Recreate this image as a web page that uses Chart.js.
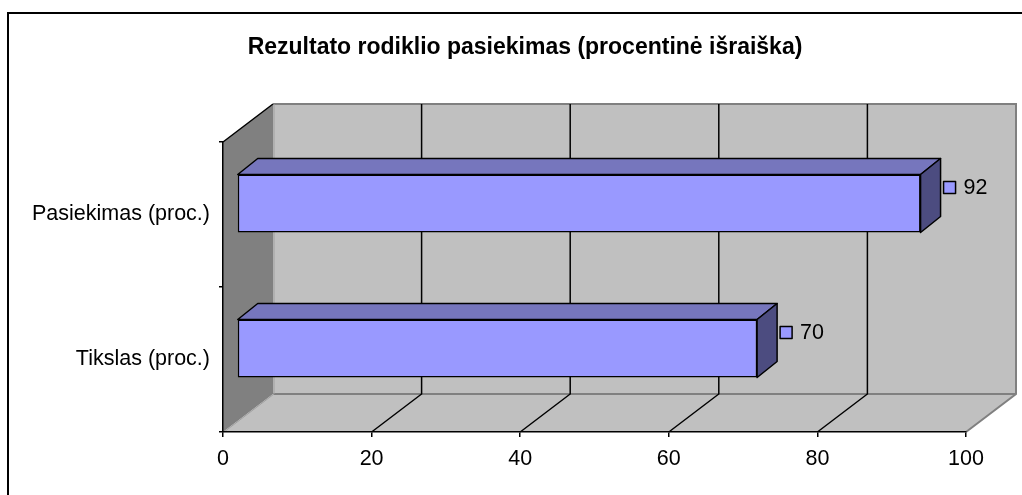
<!DOCTYPE html>
<html>
<head>
<meta charset="utf-8">
<script src="https://cdn.jsdelivr.net/npm/chart.js@4.4.1/dist/chart.umd.min.js"></script>
<style>
  html, body { margin: 0; padding: 0; background: #fff; }
  #wrap { width: 1022px; height: 495px; }
</style>
</head>
<body>
<div id="wrap"><canvas id="c" width="1022" height="495"></canvas></div>
<script>
const titleText = 'Rezultato rodiklio pasiekimas (procentinė išraiška)';
const categories = ['Pasiekimas (proc.)', 'Tikslas (proc.)'];
const values = [92, 70];
const xTickValues = [0, 20, 40, 60, 80, 100];

const FONT = "'Liberation Sans', Arial, sans-serif";
const WALL = { dx: 50, dy: 38 };      // depth of the 3D box
const BAR_SHIFT = { dx: 14, dy: -11 }; // bar front plane offset
const BAR_DEPTH = { dx: 20, dy: -16 }; // bar depth

const wallsPlugin = {
  id: 'walls3d',
  beforeDraw(chart) {
    const ctx = chart.ctx;
    const xs = chart.scales.x, ys = chart.scales.y;
    const x0 = xs.getPixelForValue(xTickValues[0]);
    const x1 = xs.getPixelForValue(xTickValues[xTickValues.length - 1]);
    const top = ys.top, bot = ys.bottom;
    const dx = WALL.dx, dy = WALL.dy;
    ctx.save();
    ctx.fillStyle = '#ffffff';
    ctx.fillRect(0, 0, chart.width, chart.height);
    // outer frame
    ctx.strokeStyle = '#000';
    ctx.lineWidth = 2;
    ctx.beginPath();
    ctx.moveTo(8, 600); ctx.lineTo(8, 13); ctx.lineTo(1200, 13);
    ctx.stroke();
    // back wall
    ctx.fillStyle = '#c0c0c0';
    ctx.fillRect(x0 + dx, top - dy, x1 - x0, bot - top);
    // floor
    ctx.beginPath();
    ctx.moveTo(x0, bot); ctx.lineTo(x1, bot); ctx.lineTo(x1 + dx, bot - dy); ctx.lineTo(x0 + dx, bot - dy); ctx.closePath();
    ctx.fill();
    // left wall
    ctx.fillStyle = '#808080';
    ctx.beginPath();
    ctx.moveTo(x0, top); ctx.lineTo(x0 + dx, top - dy); ctx.lineTo(x0 + dx, bot - dy); ctx.lineTo(x0, bot); ctx.closePath();
    ctx.fill();
    // gray edges
    ctx.strokeStyle = '#808080';
    ctx.lineWidth = 2;
    ctx.beginPath();
    ctx.moveTo(x0 + dx, top - dy); ctx.lineTo(x1 + dx, top - dy); ctx.lineTo(x1 + dx, bot - dy); ctx.lineTo(x1, bot);
    ctx.moveTo(x0 + dx, bot - dy); ctx.lineTo(x1 + dx, bot - dy);
    ctx.stroke();
    ctx.strokeStyle = '#a0a0a0';
    ctx.lineWidth = 1;
    ctx.beginPath();
    ctx.moveTo(x0 + dx + 1, top - dy); ctx.lineTo(x0 + dx + 1, bot - dy);
    ctx.moveTo(x0 + 1, bot); ctx.lineTo(x0 + dx + 1, bot - dy);
    ctx.stroke();
    // gridlines
    ctx.strokeStyle = '#000';
    ctx.lineWidth = 1.5;
    ctx.beginPath();
    xTickValues.slice(1, -1).forEach(v => {
      const X = xs.getPixelForValue(v);
      ctx.moveTo(X + dx, top - dy); ctx.lineTo(X + dx, bot - dy); ctx.lineTo(X, bot);
    });
    // left wall top edge
    ctx.moveTo(x0, top); ctx.lineTo(x0 + dx, top - dy);
    ctx.stroke();
    ctx.restore();
  },
  beforeDatasetsDraw(chart) {
    chart.ctx.save();
    chart.ctx.translate(BAR_SHIFT.dx, BAR_SHIFT.dy);
  },
  afterDatasetsDraw(chart) {
    const ctx = chart.ctx;
    const meta = chart.getDatasetMeta(0);
    const bdx = BAR_DEPTH.dx, bdy = BAR_DEPTH.dy;
    meta.data.forEach((el, i) => {
      const p = el.getProps(['x', 'y', 'base', 'height'], true);
      const l = p.base, r = p.x, t = p.y - p.height / 2, b = p.y + p.height / 2;
      ctx.lineWidth = 1.5;
      ctx.strokeStyle = '#000';
      ctx.lineJoin = 'round';
      // top face
      ctx.fillStyle = '#7676bd';
      ctx.beginPath();
      ctx.moveTo(l, t); ctx.lineTo(l + bdx, t + bdy); ctx.lineTo(r + bdx, t + bdy); ctx.lineTo(r, t); ctx.closePath();
      ctx.fill(); ctx.stroke();
      // side face
      ctx.fillStyle = '#4c4c80';
      ctx.beginPath();
      ctx.moveTo(r, t); ctx.lineTo(r + bdx, t + bdy); ctx.lineTo(r + bdx, b + bdy); ctx.lineTo(r, b); ctx.closePath();
      ctx.fill(); ctx.stroke();
      // data label with legend key
      const cy = p.y + bdy;
      const kx = r + bdx + 3;
      ctx.fillStyle = '#9999ff';
      ctx.fillRect(kx, cy - 6, 12, 12);
      ctx.lineWidth = 1.5;
      ctx.strokeRect(kx, cy - 6, 12, 12);
      ctx.fillStyle = '#000';
      ctx.font = '21.5px ' + FONT;
      ctx.textBaseline = 'middle';
      ctx.textAlign = 'left';
      ctx.fillText(String(values[i]), kx + 20, cy + 1);
    });
    ctx.restore();
  },
  afterDraw(chart) {
    const ctx = chart.ctx;
    ctx.save();
    ctx.fillStyle = '#000';
    ctx.font = 'bold 23px ' + FONT;
    ctx.textAlign = 'center';
    ctx.textBaseline = 'middle';
    ctx.fillText(titleText, 525, 48);
    ctx.restore();
  }
};

new Chart(document.getElementById('c'), {
  type: 'bar',
  data: {
    labels: categories,
    datasets: [{
      data: values,
      backgroundColor: '#9999ff',
      borderColor: '#000',
      borderWidth: 1.5,
      borderSkipped: false,
      barPercentage: 0.4,
      categoryPercentage: 1,
      clip: false
    }]
  },
  options: {
    indexAxis: 'y',
    responsive: false,
    animation: false,
    events: [],
    layout: { padding: { top: 142, right: 56, left: 0, bottom: 0 } },
    plugins: {
      legend: { display: false },
      title: { display: false },
      tooltip: { enabled: false }
    },
    scales: {
      x: {
        type: 'linear',
        min: 0, max: 100,
        afterFit(s) { s.height = 63; },
        afterBuildTicks(s) { s.ticks = xTickValues.map(v => ({ value: v })); },
        grid: { display: true, drawOnChartArea: false, drawTicks: true, tickLength: 5, color: '#000', lineWidth: 1.5 },
        border: { display: true, color: '#000', width: 1.5 },
        ticks: { color: '#000', padding: 9, maxRotation: 0, font: { family: FONT, size: 21.5 } }
      },
      y: {
        afterFit(s) { s.width = 223; },
        grid: { display: true, drawOnChartArea: false, drawTicks: true, tickLength: 4, color: '#000', lineWidth: 1.5, offset: true },
        border: { display: true, color: '#000', width: 1.5 },
        ticks: { color: '#000', padding: 9, font: { family: FONT, size: 21.5 } }
      }
    }
  },
  plugins: [wallsPlugin]
});
</script>
</body>
</html>
